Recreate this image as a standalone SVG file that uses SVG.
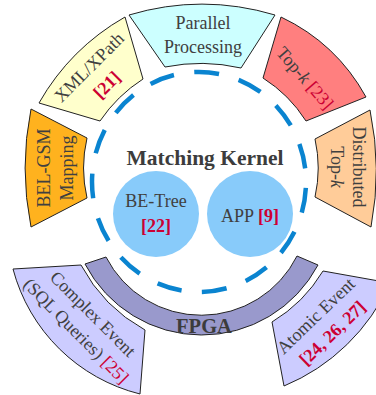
<svg xmlns="http://www.w3.org/2000/svg" width="376" height="395" viewBox="0 0 376 395">
<style>
.seg{stroke:#222;stroke-width:1;stroke-linejoin:miter}
text{font-family:"Liberation Serif","Times New Roman",serif;fill:#404040;font-size:18px;text-anchor:middle}
.ref{fill:#CC0033}
.b{font-weight:bold}
.big{font-size:21.5px;font-weight:bold;fill:#3c3c3c}
.bubble{fill:#88CBFA}
</style>
<rect width="376" height="395" fill="#fff"/>
<g id="connectors">
<ellipse cx="199" cy="182" rx="107" ry="110" fill="none" stroke="#0A84D0" stroke-width="4.5" stroke-dasharray="25 20.45" stroke-dashoffset="-6"/>
</g>
<g id="parallel">
<path class="seg" fill="#CCFFFF" d="M129,15 A255,255 0 0 1 275,15 L241,68 A180,180 0 0 0 165,67 Z"/>
<text x="203" y="29">Parallel</text>
<text x="203" y="53">Processing</text>
</g>
<g id="xml">
<path class="seg" fill="#FFFFCC" d="M39,103 A230,230 0 0 1 125,17 L143,79 A150,150 0 0 0 100,121 Z"/>
<g transform="translate(98,76) rotate(-45)">
<text y="-6.5">XML/XPath</text>
<text y="18.5" class="ref b">[21]</text>
</g>
</g>
<g id="belgsm">
<path class="seg" fill="#FFB21E" d="M31,227 A300,300 0 0 1 31,109 L87,138 A133,133 0 0 0 87,198 Z"/>
<g transform="translate(61.5,168) rotate(-90)">
<text y="-11.5">BEL-GSM</text>
<text y="11.5">Mapping</text>
</g>
</g>
<g id="topk">
<path class="seg" fill="#FF7F7F" d="M281,17 A190,190 0 0 1 366,97 L306,121 A140,140 0 0 0 263,78 Z"/>
<g transform="translate(305,78) rotate(49)">
<text y="6">Top-<tspan font-style="italic">k</tspan> <tspan class="ref">[23]</tspan></text>
</g>
</g>
<g id="distributed">
<path class="seg" fill="#FFCC99" d="M370,110 A300,300 0 0 1 371,227 L315,197 A133,133 0 0 0 315,139 Z"/>
<g transform="translate(342,167) rotate(90)">
<text y="-11">Distributed</text>
<text y="11">Top-<tspan font-style="italic">k</tspan></text>
</g>
</g>
<g id="complex">
<path class="seg" fill="#CCCCFF" d="M13,269 L81,265 A160,160 0 0 0 145,330 L140,394 A175,175 0 0 1 13,269 Z"/>
<g transform="translate(84.5,322.5) rotate(45)">
<text y="-6">Complex Event</text>
<text y="18">(SQL Queries) <tspan class="ref">[25]</tspan></text>
</g>
</g>
<g id="atomic">
<path class="seg" fill="#CCCCFF" d="M323,271 L390,283 A200,200 0 0 1 284,386 L272,322 A150,150 0 0 0 323,271 Z"/>
<g transform="translate(324,324.5) rotate(-44)">
<text y="-6">Atomic Event</text>
<text y="18" class="ref b">[24, 26, 27]</text>
</g>
</g>
<g id="fpga">
<path class="seg" fill="#9999CC" d="M106,257 A107,107 0 0 0 297,256 L318,265 A131.5,131.5 0 0 1 85,264 Z"/>
<text x="204" y="333" class="big" style="font-size:20.5px">FPGA</text>
</g>
<g id="kernel">
<text x="205" y="165" class="big">Matching Kernel</text>
</g>
<g id="betree">
<circle class="bubble" cx="156" cy="214" r="43"/>
<text x="156" y="207">BE-Tree</text>
<text x="156" y="232" class="ref b">[22]</text>
</g>
<g id="app">
<circle class="bubble" cx="250" cy="214" r="43"/>
<text x="250" y="222">APP <tspan class="ref b">[9]</tspan></text>
</g>
</svg>
